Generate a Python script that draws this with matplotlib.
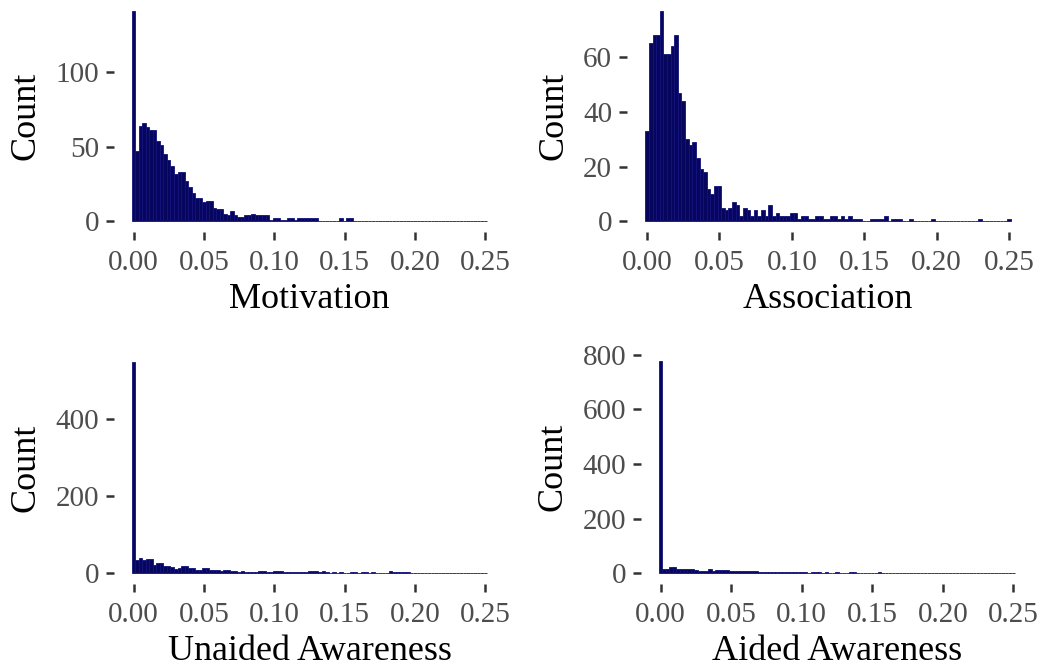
import numpy as np
import matplotlib
matplotlib.use("Agg")
import matplotlib.pyplot as plt

plt.rcParams['font.family'] = ['Liberation Serif', 'DejaVu Serif']

# bin centres: 0.0000, 0.0025, ... 0.2500
bin_width = 0.0025
centres = np.arange(101) * bin_width

motivation = [141, 47, 64, 66, 63, 61, 61, 54, 51, 45,
              41, 37, 32, 33, 33, 27, 23, 19, 16, 16,
              13, 14, 14, 9, 8, 8, 5, 4, 7, 4,
              3, 3, 4, 4, 5, 4, 4, 4, 4, 1,
              2, 2, 1, 1, 2, 2, 1, 2, 2, 2,
              2, 2, 2, 0, 0, 0, 0, 0, 0, 2,
              0, 2, 2, 0, 0, 0, 0, 0, 0, 0,
              0, 0, 0, 0, 0, 0, 0, 0, 0, 0,
              0, 0, 0, 0, 0, 0, 0, 0, 0, 0,
              0, 0, 0, 0, 0, 0, 0, 0, 0, 0,
              0]

association = [33, 65, 68, 68, 77, 61, 61, 64, 68, 47,
               44, 30, 28, 29, 23, 19, 18, 12, 10, 13,
               13, 5, 4, 5, 7, 6, 2, 5, 4, 2,
               4, 2, 4, 2, 6, 2, 3, 2, 2, 2,
               3, 3, 1, 2, 2, 1, 1, 2, 2, 1,
               1, 2, 2, 1, 2, 1, 2, 1, 1, 1,
               0, 0, 1, 1, 1, 1, 2, 0, 1, 1,
               1, 0, 0, 1, 0, 0, 0, 0, 0, 1,
               0, 0, 0, 0, 0, 0, 0, 0, 0, 0,
               0, 0, 1, 0, 0, 0, 0, 0, 0, 0,
               1]

unaided = [549, 36, 41, 36, 38, 38, 23, 28, 28, 19,
           19, 17, 12, 15, 18, 18, 14, 14, 10, 10,
           15, 15, 10, 9, 9, 6, 9, 9, 5, 5,
           4, 5, 4, 4, 4, 4, 7, 7, 3, 3,
           5, 5, 5, 3, 3, 3, 3, 3, 3, 3,
           5, 5, 5, 4, 5, 4, 2, 3, 2, 3,
           2, 2, 3, 3, 2, 3, 3, 2, 3, 2,
           2, 2, 2, 5, 4, 4, 3, 3, 3, 2,
           1, 2, 1, 1, 2, 1, 1, 2, 1, 1,
           1, 2, 1, 1, 1, 2, 1, 1, 1, 1,
           1]

aided = [778, 15, 15, 23, 23, 16, 16, 15, 15, 15,
         12, 10, 10, 10, 15, 10, 11, 11, 11, 11,
         10, 10, 8, 9, 8, 9, 8, 8, 6, 6,
         5, 6, 5, 4, 4, 5, 4, 4, 6, 5,
         4, 4, 3, 4, 4, 5, 3, 4, 3, 3,
         4, 3, 3, 3, 5, 4, 3, 3, 3, 3,
         3, 3, 4, 3, 2, 3, 2, 3, 2, 2,
         3, 3, 2, 2, 2, 2, 2, 2, 3, 3,
         2, 2, 2, 2, 3, 2, 2, 2, 2, 2,
         2, 2, 2, 3, 2, 2, 2, 2, 2, 2,
         2]

x_ticks = [0.00, 0.05, 0.10, 0.15, 0.20, 0.25]

panels = [
    # counts, xlabel, yticks, pixel box (left, right, top, bottom)
    (motivation, "Motivation", [0, 50, 100], (114, 505, 0, 232)),
    (association, "Association", [0, 20, 40, 60], (627, 1029, 0, 232)),
    (unaided, "Unaided Awareness", [0, 200, 400], (114, 505, 351, 584)),
    (aided, "Aided Awareness", [0, 200, 400, 600, 800], (641, 1033, 350, 584)),
]

W, H = 1046, 670
fig = plt.figure(figsize=(W / 100, H / 100), dpi=100)

for counts, label, yticks, (l, r, t, b) in panels:
    ax = fig.add_axes([l / W, 1 - b / H, (r - l) / W, (b - t) / H])
    ax.bar(centres, counts, width=bin_width, color="#06065e",
           edgecolor="#12127a", linewidth=0.6)
    lo = -bin_width / 2
    hi = centres[-1] + bin_width / 2
    pad = (hi - lo) * 0.05
    ax.set_xlim(lo - pad, hi + pad)
    top = max(counts)
    ax.set_ylim(-top * 0.05, top * 1.05)
    ax.set_xticks(x_ticks)
    ax.set_xticklabels(["%.2f" % v for v in x_ticks])
    ax.set_yticks(yticks)
    for s in ax.spines.values():
        s.set_visible(False)
    ax.tick_params(axis="both", colors="#333333", length=5.8, width=1.8,
                   labelsize=21, labelcolor="#4D4D4D")
    ax.tick_params(axis="x", pad=7)
    ax.tick_params(axis="y", pad=5)
    ax.set_xlabel(label, fontsize=26, color="black", labelpad=5)
    ax.set_ylabel("Count", fontsize=26, color="black", labelpad=9)

fig.savefig("out.png", dpi=100)
